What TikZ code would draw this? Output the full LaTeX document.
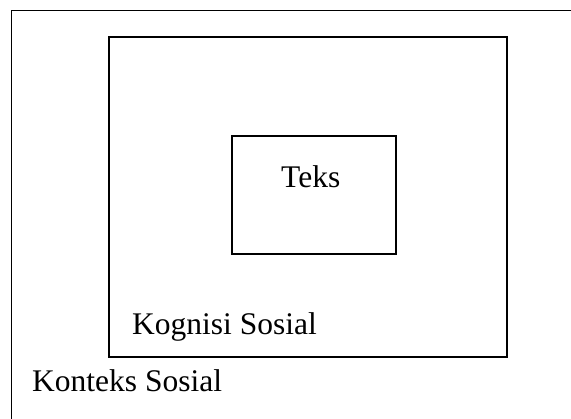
\documentclass[tikz,border=0pt]{standalone}
\usepackage{fontspec}
\setmainfont{Liberation Serif}
\tikzset{
  box/.style={draw, line width=1.6pt},
  label/.style={anchor=base west, inner sep=0pt, font=\fontsize{31.5}{36}\selectfont}
}
\begin{document}
\begin{tikzpicture}[x=1pt, y=-1pt]
    \useasboundingbox (0,0) rectangle (571,419);
    \clip (0,0) rectangle (571,419);
    % konteks, kognisi, teks
    \draw[box] (11.5,10.5) rectangle (600,450);
    \draw[box] (109,37) rectangle (507,357);
    \draw[box] (232,136) rectangle (396,254);
    \node[label] (teks) at (281,188) {Teks};
    \node[label] (kognisi) at (132,335) {Kognisi Sosial};
    \node[label] (konteks) at (32,392) {Konteks Sosial};
  \end{tikzpicture}
\end{document}
